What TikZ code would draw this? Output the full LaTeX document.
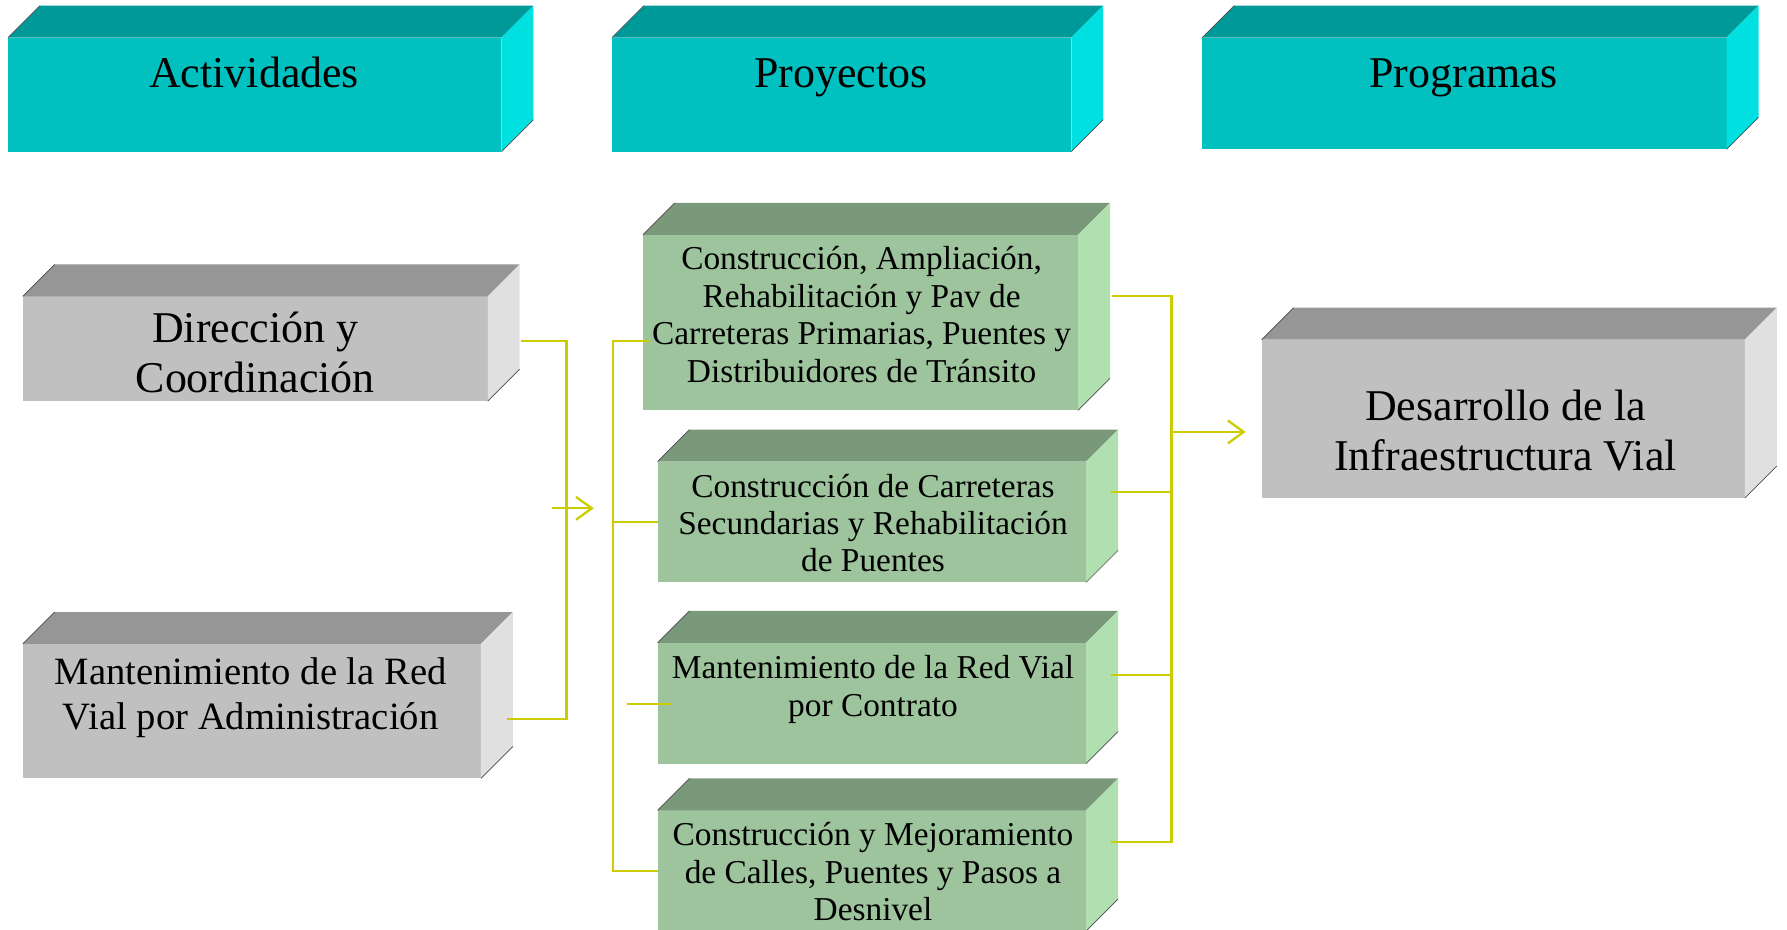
\documentclass[tikz,border=0pt]{standalone}
\usepackage{fontspec}
\setmainfont{Liberation Serif}
\usetikzlibrary{calc,arrows.meta}

\definecolor{tealfront}{RGB}{0,192,192}
\definecolor{tealtop}{RGB}{0,153,153}
\definecolor{tealside}{RGB}{0,224,224}
\definecolor{grayfront}{RGB}{192,192,192}
\definecolor{graytop}{RGB}{150,150,150}
\definecolor{grayside}{RGB}{224,224,224}
\definecolor{greenfront}{RGB}{157,196,157}
\definecolor{greentop}{RGB}{122,152,122}
\definecolor{greenside}{RGB}{176,224,176}
\definecolor{linkcolor}{RGB}{204,204,0}

\def\pxu{0.022794cm}

% top and side faces of a block
\newcommand{\blockfaces}[3]{%
  \fill[#2] (#1.north west) -- ++(28,-28) -- ($(#1.north east)+(28,-28)$) -- (#1.north east) -- cycle;
  \fill[#3] (#1.north east) -- ++(28,-28) -- ($(#1.south east)+(28,-28)$) -- (#1.south east) -- cycle;
  \draw[edgeline] (#1.north west) -- ++(28,-28);
  \draw[edgeline] (#1.south east) -- ++(28,-28);
}

\begin{document}
\begin{tikzpicture}[x=\pxu, y=-\pxu,
    front/.style 2 args={anchor=north west, inner sep=0pt, outer sep=0pt,
      minimum width=#1*\pxu, minimum height=#2*\pxu},
    edgeline/.style={draw=black!70, line width=0.4pt},
    hdtext/.style={anchor=base, font=\fontsize{25}{28}\selectfont},
    grtext/.style={align=center, font=\fontsize{25}{28.4}\selectfont},
    smtext/.style={align=center, font=\fontsize{22}{25.9}\selectfont},
    gntext/.style={align=center, font=\fontsize{19}{21.3}\selectfont},
    link/.style={draw=linkcolor, line width=1.3pt},
    >={Straight Barb[length=9pt, width=13pt]}]

    \useasboundingbox (0,0) rectangle (1568,816);

    % Header blocks
    \node[front={433}{100}, fill=tealfront] (act) at (7,33) {};
    \node[front={403}{100}, fill=tealfront] (proy) at (537,33) {};
    \node[front={460}{98}, fill=tealfront] (prog) at (1055,33) {};
    \blockfaces{act}{tealtop}{tealside}
    \blockfaces{proy}{tealtop}{tealside}
    \blockfaces{prog}{tealtop}{tealside}
    \node[hdtext] (acttxt) at (223,77) {Actividades};
    \node[hdtext] (proytxt) at (738,77) {Proyectos};
    \node[hdtext] (progtxt) at (1284,77) {Programas};

    % Activity blocks
    \node[front={408}{92}, fill=grayfront] (dir) at (20,260) {};
    \node[front={402}{118}, fill=grayfront] (mra) at (20,565) {};
    \blockfaces{dir}{graytop}{grayside}
    \blockfaces{mra}{graytop}{grayside}
    \node[grtext] (dirtxt) at (224,309) {Dirección y\\Coordinación};
    \node[smtext] (mratxt) at (220,612) {Mantenimiento de la Red\\Vial por Administración};

    % Project blocks
    \node[front={382}{154}, fill=greenfront] (g1) at (564,206) {};
    \node[front={376}{106}, fill=greenfront] (g2) at (577,405) {};
    \node[front={376}{106}, fill=greenfront] (g3) at (577,564) {};
    \node[front={376}{106}, fill=greenfront] (g4) at (577,711) {};
    \blockfaces{g1}{greentop}{greenside}
    \blockfaces{g2}{greentop}{greenside}
    \blockfaces{g3}{greentop}{greenside}
    \blockfaces{g4}{greentop}{greenside}
    \node[gntext] (g1txt) at (756,276) {Construcción, Ampliación,\\Rehabilitación y Pav de\\Carreteras Primarias, Puentes y\\Distribuidores de Tránsito};
    \node[gntext] (g2txt) at (766,459) {Construcción de Carreteras\\Secundarias y Rehabilitación\\de Puentes};
    \node[gntext] (g3txt) at (766,605) {Mantenimiento de la Red Vial\\por Contrato};
    \node[gntext] (g4txt) at (766,765) {Construcción y Mejoramiento\\de Calles, Puentes y Pasos a\\Desnivel};

    % Program block
    \node[front={424}{139}, fill=grayfront] (des) at (1107,298) {};
    \blockfaces{des}{graytop}{grayside}
    \node[grtext] (destxt) at (1321,378) {Desarrollo de la\\Infraestructura Vial};

    % Junction points
    \coordinate (lbus) at (497,446);
    \coordinate (linL) at (484,446);
    \coordinate (loutL) at (521,446);
    \coordinate (mbus) at (538,458);
    \coordinate (stub) at (550,618);
    \coordinate (rbus) at (1028,379);

    % Activities to projects
    \draw[link] ($(dir.east)+(29,-7)$) -| (lbus) |- ($(mra.east)+(23,7)$);
    \draw[link,->] (linL) -- (loutL);

    % Projects bracket
    \draw[link] ($(g1.west)+(6,16)$) -| (mbus) |- (g4.west);
    \draw[link] (mbus) -- (g2.west);
    \draw[link] (stub) -- ($(g3.west)+(13,1)$);

    % Projects to program
    \draw[link] ($(g1.east)+(30,-23)$) -| (rbus) |- ($(g4.east)+(22,-25)$);
    \draw[link] ($(g2.east)+(22,-26)$) -- ++(53,0);
    \draw[link] ($(g3.east)+(22,-25)$) -- ++(53,0);
    \draw[link,->] (rbus) -- ($(des.west)+(-14,11.5)$);

\end{tikzpicture}
\end{document}
